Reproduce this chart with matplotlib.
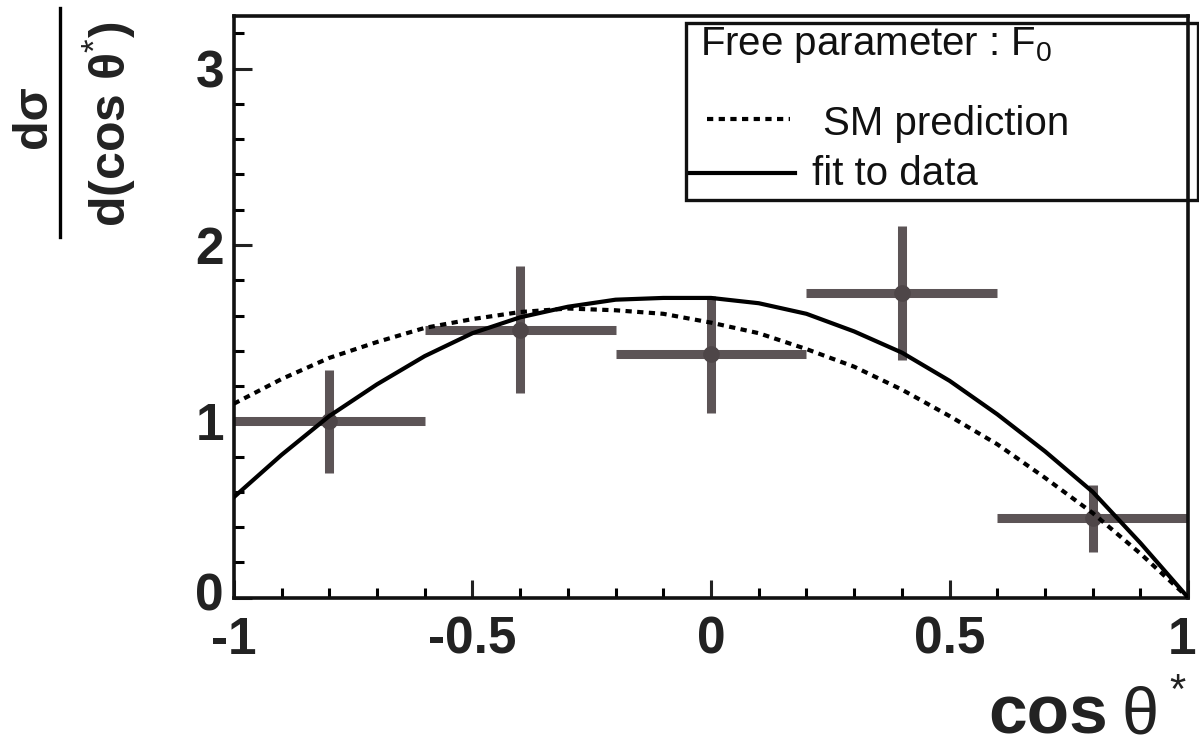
import matplotlib.pyplot as plt
import matplotlib.transforms as mtransforms
from matplotlib.lines import Line2D
from matplotlib.patches import Rectangle
from matplotlib.ticker import MultipleLocator

plt.rcParams['font.family'] = ['Liberation Sans', 'DejaVu Sans']
plt.rcParams['mathtext.fontset'] = 'custom'
plt.rcParams['mathtext.rm'] = 'Liberation Sans'
plt.rcParams['mathtext.it'] = 'Liberation Sans'
plt.rcParams['mathtext.bf'] = 'Liberation Sans:bold'

# data points (bin centres, half widths, values, errors)
bin_x = [-0.8, -0.4, 0.0, 0.4, 0.8]
bin_hw = [0.2, 0.2, 0.2, 0.2, 0.2]
data_y = [1.00, 1.52, 1.38, 1.73, 0.45]
data_err = [0.29, 0.36, 0.33, 0.38, 0.19]

# curves
curve_x = [-1.0, -0.9, -0.8, -0.7, -0.6, -0.5, -0.4, -0.3, -0.2, -0.1, 0.0,
           0.1, 0.2, 0.3, 0.4, 0.5, 0.6, 0.7, 0.8, 0.9, 1.0]
sm_pred = [1.10, 1.24, 1.36, 1.45, 1.53, 1.58, 1.62, 1.64, 1.63, 1.61, 1.56,
           1.50, 1.41, 1.31, 1.18, 1.03, 0.87, 0.68, 0.48, 0.25, 0.0]
fit_data = [0.57, 0.81, 1.03, 1.21, 1.37, 1.50, 1.59, 1.65, 1.69, 1.70, 1.70,
            1.67, 1.61, 1.51, 1.39, 1.23, 1.04, 0.83, 0.60, 0.31, 0.0]

fig = plt.figure(figsize=(11.99, 7.5), dpi=100)
ax = fig.add_axes([0.195, 0.203, 0.796, 0.776])

bar_col = '#5c5456'
ax.errorbar(bin_x, data_y, xerr=bin_hw, yerr=data_err, fmt='o', color='#4e4648',
            ms=11, ecolor=bar_col, elinewidth=6.5, capsize=0, zorder=2)
ax.plot(curve_x, sm_pred, color='black', lw=3, ls=(0, (1.5, 1.3)), zorder=3)
ax.plot(curve_x, fit_data, color='black', lw=3, zorder=3)

ax.set_xlim(-1, 1)
ax.set_ylim(0, 3.3)
ax.xaxis.set_minor_locator(MultipleLocator(0.1))
ax.yaxis.set_minor_locator(MultipleLocator(0.2))
ax.set_xticks([-1, -0.5, 0, 0.5, 1])
ax.set_xticklabels(['-1', '-0.5', '0', '0.5', '1'])
ax.set_yticks([0, 1, 2, 3])
ax.set_yticklabels(['0', '1', '2', '3'])
ax.tick_params(which='both', direction='in', top=False, right=False, width=2.2)
ax.tick_params(which='major', length=13, labelsize=37, color='#222')
ax.tick_params(which='minor', length=7)
ax.tick_params(axis='x', pad=13)
ax.tick_params(axis='y', pad=7)
for lab in ax.get_xticklabels() + ax.get_yticklabels():
    lab.set_fontweight('bold')
    lab.set_color('#222')
# last x label sits just inside the right edge
last = ax.get_xticklabels()[-1]
last.set_transform(last.get_transform() + mtransforms.ScaledTranslation(-6 / 100, 0, fig.dpi_scale_trans))
# y "0" sits a little higher than the axis line
zero = ax.get_yticklabels()[0]
zero.set_transform(zero.get_transform() + mtransforms.ScaledTranslation(0, 6 / 100, fig.dpi_scale_trans))
for s in ax.spines.values():
    s.set_linewidth(2.6)
    s.set_color('#111')

# legend box
fig.patches.append(Rectangle((0.572, 0.733), 0.427, 0.237, transform=fig.transFigure,
                             fill=False, lw=2.4, ec='#111', zorder=5))
fig.text(0.584, 0.927, 'Free parameter : F$_0$', fontsize=29, color='#111')
fig.lines.append(Line2D([0.590, 0.659], [0.842, 0.842], transform=fig.transFigure,
                        color='black', lw=3, ls=(0, (1.5, 1.3))))
fig.text(0.686, 0.82, 'SM prediction', fontsize=29, color='#111')
fig.lines.append(Line2D([0.575, 0.663], [0.769, 0.769], transform=fig.transFigure,
                        color='black', lw=3))
fig.text(0.677, 0.753, 'fit to data', fontsize=29, color='#111')

# y label as a fraction
fig.lines.append(Line2D([0.05, 0.05], [0.684, 0.989], transform=fig.transFigure,
                        color='black', lw=2.4))
fig.text(0.028, 0.844, 'd\u03c3', rotation=90, fontsize=35, fontweight='bold',
         ha='center', va='center', color='#222')
fig.text(0.091, 0.834, 'd(cos \u03b8$^{*}$)', rotation=90, fontsize=36,
         fontweight='bold', ha='center', va='center', color='#222')

# x label
fig.text(0.924, 0.022, 'cos', fontsize=50, fontweight='bold', ha='right',
         va='baseline', color='#222')
fig.text(0.935, 0.022, '\u03b8', fontsize=48, ha='left', va='baseline', color='#222')
fig.text(0.982, 0.078, '*', fontsize=30, ha='center', va='center', color='#222')

plt.savefig('out.png', dpi=100)
